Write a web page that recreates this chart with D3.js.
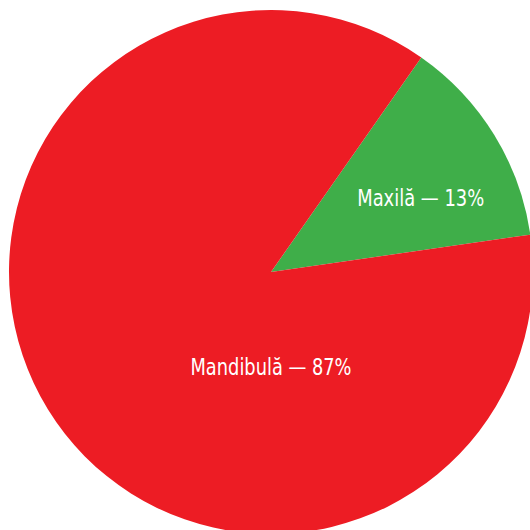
<!DOCTYPE html>
<html>
<head>
<meta charset="utf-8">
<script src="https://cdn.jsdelivr.net/npm/d3@7"></script>
<style>
  html, body { margin: 0; padding: 0; background: #fff; }
  svg { display: block; }
</style>
</head>
<body>
<svg id="chart" width="530" height="530"></svg>
<script>
// Distribution by jaw
const categories = ["Maxilă", "Mandibulă"];
const values = [13, 87];
const colors = ["#3FAE49", "#ED1C24"];

const width = 530, height = 530;
const cx = 271, cy = 272, radius = 262;
const startDeg = 35;

const svg = d3.select("#chart");
const g = svg.append("g").attr("transform", `translate(${cx},${cy})`);

const data = categories.map((c, i) => ({ name: c, value: values[i], color: colors[i] }));

const pie = d3.pie()
  .value(d => d.value)
  .sort(null)
  .startAngle(startDeg * Math.PI / 180)
  .endAngle(startDeg * Math.PI / 180 + 2 * Math.PI);

const arc = d3.arc().innerRadius(0).outerRadius(radius);

const arcs = pie(data);

g.selectAll("path.slice")
  .data(arcs)
  .join("path")
  .attr("class", "slice")
  .attr("d", arc)
  .attr("fill", d => d.data.color);

// label placement: polar offset (degrees clockwise from north, distance from centre)
const labelPolar = [
  { angle: 63.7, dist: 167, width: 127 },
  { angle: 180, dist: 95, width: 161 }
];

g.selectAll("text.label")
  .data(arcs)
  .join("text")
  .attr("class", "label")
  .attr("x", (d, i) => Math.sin(labelPolar[i].angle * Math.PI / 180) * labelPolar[i].dist)
  .attr("y", (d, i) => -Math.cos(labelPolar[i].angle * Math.PI / 180) * labelPolar[i].dist)
  .attr("dy", "0.36em")
  .attr("text-anchor", "middle")
  .attr("fill", "#fff")
  .attr("font-family", "'Liberation Sans Narrow', 'DejaVu Sans Condensed', 'Roboto Condensed', sans-serif")
  .attr("font-size", 23.5)
  .attr("textLength", (d, i) => labelPolar[i].width)
  .attr("lengthAdjust", "spacingAndGlyphs")
  .text(d => `${d.data.name} — ${d.data.value}%`);
</script>
</body>
</html>
